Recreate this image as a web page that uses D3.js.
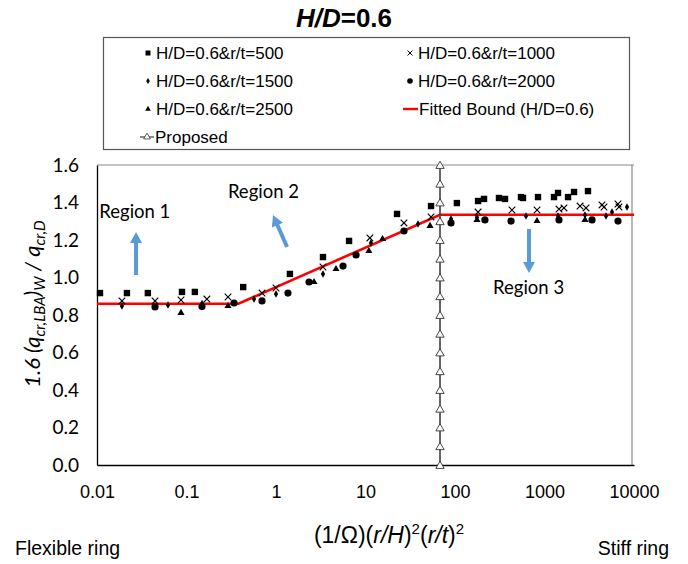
<!DOCTYPE html>
<html><head><meta charset="utf-8">
<script src="https://cdn.jsdelivr.net/npm/d3@7"></script>
<style>body{margin:0;background:#fff}svg{display:block}</style>
</head><body>
<svg id="c" width="688" height="564"></svg>
<script>
// ---- data ----
const xTicks = [0.01, 0.1, 1, 10, 100, 1000, 10000];
const xTickLabels = ["0.01", "0.1", "1", "10", "100", "1000", "10000"];
const yTicks = [0, 0.2, 0.4, 0.6, 0.8, 1.0, 1.2, 1.4, 1.6];
const yTickLabels = ["0.0", "0.2", "0.4", "0.6", "0.8", "1.0", "1.2", "1.4", "1.6"];

const rt500 = [[0.0108,0.917],[0.0216,0.917],[0.037,0.917],[0.089,0.923],[0.124,0.923],[0.43,0.949],[1.43,1.019],[3.35,1.109],[6.55,1.195],[22.5,1.339],[54,1.381],[105,1.397],[181,1.408],[211,1.419],[310,1.424],[362,1.419],[546,1.429],[575,1.424],[846,1.429],[1277,1.429],[1416,1.451],[1832,1.429],[2138,1.456],[3061,1.461]];
const rt1000 = [[0.019,0.875],[0.0445,0.875],[0.0868,0.880],[0.169,0.885],[0.291,0.896],[0.698,0.917],[1.0,0.944],[3.35,1.056],[11.2,1.211],[26.9,1.291],[54,1.323],[181,1.349],[433,1.360],[825,1.360],[1452,1.365],[1651,1.371],[2495,1.381],[2908,1.371],[4388,1.387],[4623,1.376],[6625,1.392],[6796,1.376]];
const rt1500 = [[0.019,0.848],[0.0621,0.853],[0.149,0.862],[0.568,0.885],[1.0,0.912],[3.35,1.019],[11.5,1.184],[38.6,1.285],[90.2,1.312],[176,1.322],[621,1.328],[1416,1.328],[2836,1.333],[4867,1.328],[5680,1.349],[8356,1.376]];
const rt2000 = [[0.0445,0.843],[0.149,0.845],[0.34,0.864],[0.698,0.875],[1.36,0.917],[2.34,0.976],[5.61,1.061],[7.84,1.120],[26.9,1.248],[90.2,1.291],[216,1.307],[423,1.301],[1452,1.307],[3396,1.307],[6625,1.301]];
const rt2500 = [[0.0868,0.811],[0.291,0.848],[2.66,0.976],[4.68,1.045],[10.9,1.141],[15.5,1.205],[52.6,1.275],[176,1.307],[825,1.301],[2836,1.307]];
const fitted = [[0.01,0.86],[0.38,0.86],[68,1.335],[10000,1.335]];
const proposedX = 68;
const proposedY = [0,0.1,0.2,0.3,0.4,0.5,0.6,0.7,0.8,0.9,1.0,1.1,1.2,1.3,1.4,1.5,1.6];
const legendLabels = ["H/D=0.6&r/t=500","H/D=0.6&r/t=1000","H/D=0.6&r/t=1500","H/D=0.6&r/t=2000","H/D=0.6&r/t=2500","Fitted Bound (H/D=0.6)","Proposed"];
const regionLabels = ["Region 1","Region 2","Region 3"];

// ---- layout ----
const svg = d3.select("#c");
const X0 = 97, X1 = 634, Y0 = 465, Y1 = 165;
const x = d3.scaleLog().domain([0.01, 10000]).range([X0, X1]);
const y = d3.scaleLinear().domain([0, 1.6]).range([Y0, Y1]);
const sans = "'Liberation Sans', Arial, sans-serif";
const cal = "Lato, 'Open Sans', sans-serif";

// title
svg.append("text").attr("x", 344).attr("y", 27).attr("text-anchor", "middle")
  .attr("font-family", sans).attr("font-weight", "bold").attr("font-size", 26)
  .call(t => { t.append("tspan").attr("font-style", "italic").text("H/D"); t.append("tspan").text("=0.6"); });

// plot frame
svg.append("line").attr("x1", X0).attr("x2", X1).attr("y1", Y1).attr("y2", Y1).attr("stroke", "#8a8a8a").attr("stroke-width", 1.2);
svg.append("line").attr("x1", X1 - 2).attr("x2", X1 - 2).attr("y1", Y1).attr("y2", Y0).attr("stroke", "#8a8a8a").attr("stroke-width", 1.2);

// axes
const xAxis = d3.axisBottom(x).tickValues(xTicks).tickSize(0).tickPadding(20)
  .tickFormat((d, i) => xTickLabels[i]);
const gx = svg.append("g").attr("transform", `translate(0,${Y0})`).call(xAxis);
gx.select(".domain").attr("stroke", "#000").attr("stroke-width", 1.3);
gx.selectAll("text").attr("font-family", sans).attr("font-size", 18).attr("fill", "#000");

const yAxis = d3.axisLeft(y).tickValues(yTicks).tickSize(0).tickPadding(18)
  .tickFormat((d, i) => yTickLabels[i]);
const gy = svg.append("g").attr("transform", `translate(${X0},0)`).call(yAxis);
gy.select(".domain").attr("stroke", "#000").attr("stroke-width", 1.3);
gy.selectAll("text").attr("font-family", cal).attr("font-size", 19).attr("fill", "#000");

// fitted bound
svg.append("path").datum(fitted)
  .attr("d", d3.line().x(d => x(d[0])).y(d => y(d[1])))
  .attr("fill", "none").attr("stroke", "#ff0000").attr("stroke-width", 2.6);

// proposed
svg.append("line").attr("x1", x(proposedX)).attr("x2", x(proposedX))
  .attr("y1", y(proposedY[0])).attr("y2", y(proposedY[proposedY.length - 1]))
  .attr("stroke", "#404040").attr("stroke-width", 1.6);
const tri = d3.symbol().type(d3.symbolTriangle);
svg.append("g").selectAll("path").data(proposedY).join("path")
  .attr("d", tri.size(30)).attr("transform", d => `translate(${x(proposedX)},${y(d) + 1})`)
  .attr("fill", "#fff").attr("stroke", "#333").attr("stroke-width", 0.9);

// markers
const markerDefs = [
  { data: rt500, draw: g => g.append("rect").attr("x", -3.2).attr("y", -3.2).attr("width", 6.4).attr("height", 6.4).attr("fill", "#000") },
  { data: rt1000, draw: g => g.append("path").attr("d", "M-3.3,-3.3L3.3,3.3M-3.3,3.3L3.3,-3.3").attr("stroke", "#000").attr("stroke-width", 1.1) },
  { data: rt1500, draw: g => g.append("path").attr("d", d3.symbol().type(d3.symbolDiamond).size(16)()).attr("fill", "#000") },
  { data: rt2000, draw: g => g.append("circle").attr("r", 3.6).attr("fill", "#000") },
  { data: rt2500, draw: g => g.append("path").attr("d", d3.symbol().type(d3.symbolTriangle).size(22)()).attr("fill", "#000") }
];
markerDefs.forEach(m => {
  svg.append("g").selectAll("g").data(m.data).join("g")
    .attr("transform", d => `translate(${x(d[0])},${y(d[1])})`)
    .each(function () { m.draw(d3.select(this)); });
});

// legend
svg.append("rect").attr("x", 103.5).attr("y", 37.5).attr("width", 526).attr("height", 112)
  .attr("fill", "#fff").attr("stroke", "#555").attr("stroke-width", 1.2);
const legPos = [[148, 53], [410, 53], [148, 81], [410, 81], [148, 109], [410, 109], [148, 137]];
legendLabels.forEach((lab, i) => {
  const [lx, ly] = legPos[i];
  const g = svg.append("g").attr("transform", `translate(${lx},${ly})`);
  if (i < 5) {
    const sm = [
      s => s.append("rect").attr("x", -2.5).attr("y", -2.5).attr("width", 5).attr("height", 5).attr("fill", "#000"),
      s => s.append("path").attr("d", "M-2.5,-2.5L2.5,2.5M-2.5,2.5L2.5,-2.5").attr("stroke", "#000").attr("stroke-width", 1),
      s => s.append("path").attr("d", d3.symbol().type(d3.symbolDiamond).size(11)()).attr("fill", "#000"),
      s => s.append("circle").attr("r", 2.8).attr("fill", "#000"),
      s => s.append("path").attr("d", d3.symbol().type(d3.symbolTriangle).size(14)()).attr("fill", "#000")
    ][i];
    sm(g);
    g.append("text").attr("x", 8).attr("y", 0).attr("dy", "0.35em").attr("font-family", sans).attr("font-size", 17).text(lab);
  } else if (i === 5) {
    g.append("line").attr("x1", -7).attr("x2", 8).attr("stroke", "#ff0000").attr("stroke-width", 2.4);
    g.append("text").attr("x", 9).attr("dy", "0.35em").attr("font-family", sans).attr("font-size", 17).text(lab);
  } else {
    g.append("line").attr("x1", -8).attr("x2", 6).attr("stroke", "#404040").attr("stroke-width", 1.2);
    g.append("path").attr("d", tri.size(20)()).attr("transform", "translate(-1,0)").attr("fill", "#fff").attr("stroke", "#333").attr("stroke-width", 0.8);
    g.append("text").attr("x", 7).attr("dy", "0.35em").attr("font-family", sans).attr("font-size", 17).text(lab);
  }
});

// region annotations (arrows)
const arrows = [
  { from: [0.0273, 1.013], to: [0.0273, 1.243] },
  { from: [1.33, 1.163], to: [0.925, 1.333] },
  { from: [671, 1.259], to: [671, 1.024] }
];
const arrowColor = "#5b9bd5";
arrows.forEach(a => {
  const x1 = x(a.from[0]), y1 = y(a.from[1]), x2 = x(a.to[0]), y2 = y(a.to[1]);
  const ang = Math.atan2(y2 - y1, x2 - x1);
  const L = Math.hypot(x2 - x1, y2 - y1);
  const g = svg.append("g").attr("transform", `translate(${x1},${y1}) rotate(${ang * 180 / Math.PI})`);
  g.append("rect").attr("x", 0).attr("y", -2).attr("width", L - 9).attr("height", 4).attr("fill", arrowColor);
  g.append("path").attr("d", `M${L - 11},-6 L${L},0 L${L - 11},6 Z`).attr("fill", arrowColor);
});
const regionPos = [[0.0106, 1.35], [0.29, 1.46], [266, 0.945]];
regionLabels.forEach((t, i) => {
  svg.append("text").attr("x", x(regionPos[i][0])).attr("y", y(regionPos[i][1]))
    .attr("dy", "0.35em").attr("font-family", cal).attr("font-size", 18.5).text(t);
});

// y axis title
const yt = svg.append("text").attr("transform", "translate(40,304) rotate(-90)")
  .attr("text-anchor", "middle").attr("font-family", cal).attr("font-style", "italic").attr("font-size", 22);
yt.append("tspan").text("1.6 (q");
yt.append("tspan").attr("font-size", 15).attr("dy", 5).text("cr,LBA");
yt.append("tspan").attr("dy", -5).text(")");
yt.append("tspan").attr("font-size", 15).attr("dy", 5).text("W");
yt.append("tspan").attr("dy", -5).text(" / q");
yt.append("tspan").attr("font-size", 15).attr("dy", 5).text("cr,D");

// x axis title
const xt = svg.append("text").attr("x", 389).attr("y", 543).attr("text-anchor", "middle")
  .attr("font-family", sans).attr("font-size", 23);
xt.append("tspan").text("(1/Ω)(");
xt.append("tspan").attr("font-style", "italic").text("r/H");
xt.append("tspan").text(")");
xt.append("tspan").attr("font-size", 15).attr("dy", -9).text("2");
xt.append("tspan").attr("dy", 9).text("(");
xt.append("tspan").attr("font-style", "italic").text("r/t");
xt.append("tspan").text(")");
xt.append("tspan").attr("font-size", 15).attr("dy", -9).text("2");

svg.append("text").attr("x", 15).attr("y", 555).attr("font-family", sans).attr("font-size", 19.5).text("Flexible ring");
svg.append("text").attr("x", 669).attr("y", 555).attr("text-anchor", "end").attr("font-family", sans).attr("font-size", 19.5).text("Stiff ring");
</script>
</body></html>
